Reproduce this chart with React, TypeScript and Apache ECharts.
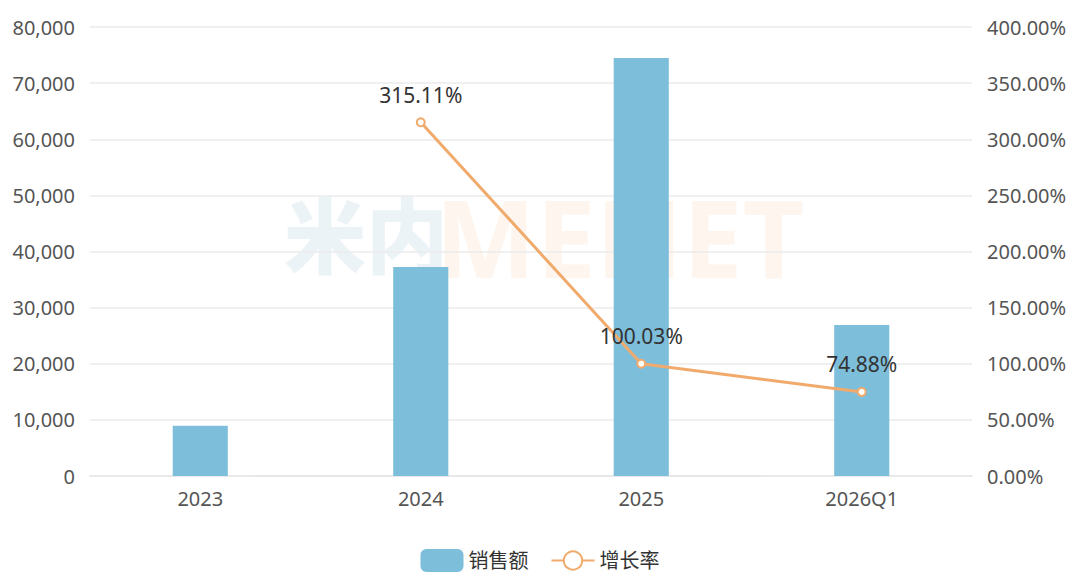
import React, { useEffect, useRef } from "react";
import * as echarts from "echarts";

const categories = ["2023", "2024", "2025", "2026Q1"];
const salesValues = [8970, 37240, 74490, 26900];
const growthValues: (number | null)[] = [null, 315.11, 100.03, 74.88];
const leftTicks = { min: 0, max: 80000, interval: 10000 };
const rightTicks = { min: 0, max: 400, interval: 50 };
const seriesNames = ["销售额", "增长率"];

const FONT = "'Noto Sans', 'Noto Sans CJK SC', sans-serif";

export default function App() {
  const ref = useRef<HTMLDivElement>(null);
  useEffect(() => {
    if (!ref.current) return;
    const chart = echarts.init(ref.current, null, { renderer: "svg" });
    chart.setOption({
      animation: false,
      backgroundColor: "#ffffff",
      textStyle: { fontFamily: FONT },
      graphic: [
        {
          type: "text",
          left: 284,
          top: 190,
          z: -10,
          silent: true,
          style: {
            text: "米内",
            fontSize: 82,
            fontWeight: 900,
            fontFamily: "'Noto Sans CJK SC', sans-serif",
            fill: "#ecf3f6",
          },
        },
        {
          type: "text",
          left: 435,
          top: 183,
          z: -10,
          silent: true,
          style: {
            text: "MENET",
            fontSize: 107,
            fontWeight: "bold",
            fontFamily: "'Noto Sans', sans-serif",
            fill: "#fef5ee",
          },
        },
      ],
      grid: { left: 90, right: 108, top: 27, bottom: 109 },
      legend: {
        bottom: 8,
        left: "center",
        itemWidth: 43,
        itemHeight: 23,
        itemGap: 22,
        textStyle: { fontSize: 20, color: "#333333", fontFamily: FONT },
        data: [
          { name: seriesNames[0], icon: "roundRect" },
          { name: seriesNames[1] },
        ],
      },
      xAxis: {
        type: "category",
        data: categories,
        axisTick: { show: false },
        axisLine: { lineStyle: { color: "#e6e6e6", width: 1.5 } },
        axisLabel: { color: "#555555", fontSize: 20, margin: 12 },
      },
      yAxis: [
        {
          type: "value",
          min: leftTicks.min,
          max: leftTicks.max,
          interval: leftTicks.interval,
          axisLine: { show: false },
          axisTick: { show: false },
          splitLine: { lineStyle: { color: "#ebebeb", width: 1.5 } },
          axisLabel: {
            color: "#555555",
            fontSize: 20,
            margin: 15,
            formatter: (v: number) => v.toLocaleString("en-US"),
          },
        },
        {
          type: "value",
          min: rightTicks.min,
          max: rightTicks.max,
          interval: rightTicks.interval,
          axisLine: { show: false },
          axisTick: { show: false },
          splitLine: { show: false },
          axisLabel: {
            color: "#555555",
            fontSize: 20,
            margin: 15,
            formatter: (v: number) => v.toFixed(2) + "%",
          },
        },
      ],
      series: [
        {
          name: seriesNames[0],
          type: "bar",
          data: salesValues,
          barWidth: "25%",
          itemStyle: { color: "#7dbedb" },
        },
        {
          name: seriesNames[1],
          type: "line",
          yAxisIndex: 1,
          data: growthValues,
          symbol: "emptyCircle",
          symbolSize: 8,
          lineStyle: { color: "#f0aa6c", width: 3 },
          itemStyle: { color: "#f0aa6c", borderWidth: 2.5 },
          label: {
            show: true,
            position: "top",
            distance: 12,
            color: "#333333",
            fontSize: 21,
            formatter: (p: any) => Number(p.value).toFixed(2) + "%",
          },
        },
      ],
    });
    return () => chart.dispose();
  }, []);
  return (
    <div
      ref={ref}
      style={{ position: "fixed", left: 0, top: 0, width: 1080, height: 585 }}
    />
  );
}
